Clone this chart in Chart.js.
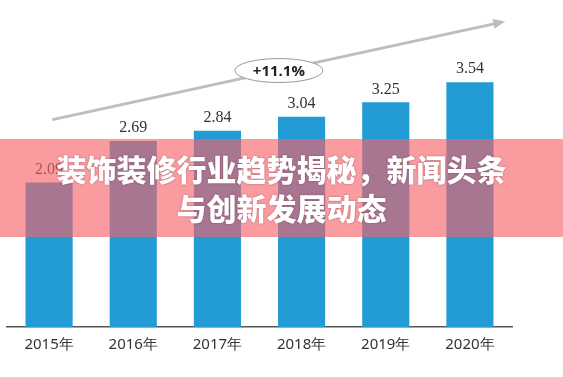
<!DOCTYPE html>
<html>
<head>
<meta charset="utf-8">
<script src="https://cdn.jsdelivr.net/npm/chart.js@4"></script>
<style>
  html, body { margin: 0; padding: 0; background: #fff; }
  #wrap { position: relative; width: 563px; height: 377px; overflow: hidden; }
  #band {
    position: absolute; left: 0; top: 139px; width: 563px; height: 98px;
    background: rgba(247, 96, 104, 0.63);
    color: #fff; text-align: center;
    font-family: "Noto Sans CJK SC", sans-serif; font-weight: 900; font-size: 30px;
    line-height: 39px; padding-top: 10px; box-sizing: border-box;
    text-shadow: 0 0 2px rgba(80, 30, 40, 0.5);
  }
</style>
</head>
<body>
<div id="wrap">
  <canvas id="chart" width="563" height="377"></canvas>
  <div id="band">装饰装修行业趋势揭秘，新闻头条<br>与创新发展动态</div>
</div>
<script>
const years = ['2015年', '2016年', '2017年', '2018年', '2019年', '2020年'];
const values = [2.09, 2.69, 2.84, 3.04, 3.25, 3.54];
const growthLabel = '+11.1%';
// arrow ends as [category index, value]
const arrowFrom = [0.04, 3.0];
const arrowTo = [5.42, 4.42];

const ctx = document.getElementById('chart').getContext('2d');

const decorations = {
    id: 'decorations',
    afterDatasetsDraw(chart) {
        const c = chart.ctx;
        const x = chart.scales.x, y = chart.scales.y;
        // value labels
        const meta = chart.getDatasetMeta(0);
        c.save();
        c.font = '16px "Liberation Serif", serif';
        c.fillStyle = '#333';
        c.textAlign = 'center';
        c.textBaseline = 'bottom';
        meta.data.forEach((bar, i) => {
            c.fillText(values[i].toFixed(2), bar.x, bar.y - 5);
        });
        // arrow
        const x1 = x.getPixelForValue(arrowFrom[0]), y1 = y.getPixelForValue(arrowFrom[1]);
        const x2 = x.getPixelForValue(arrowTo[0]), y2 = y.getPixelForValue(arrowTo[1]);
        const ang = Math.atan2(y2 - y1, x2 - x1);
        c.strokeStyle = '#bdbdbd';
        c.fillStyle = '#bdbdbd';
        c.lineWidth = 3;
        c.beginPath();
        c.moveTo(x1, y1);
        c.lineTo(x2 - 8 * Math.cos(ang), y2 - 8 * Math.sin(ang));
        c.stroke();
        c.beginPath();
        c.moveTo(x2, y2);
        c.lineTo(x2 - 12 * Math.cos(ang) + 5 * Math.sin(ang), y2 - 12 * Math.sin(ang) - 5 * Math.cos(ang));
        c.lineTo(x2 - 12 * Math.cos(ang) - 5 * Math.sin(ang), y2 - 12 * Math.sin(ang) + 5 * Math.cos(ang));
        c.closePath();
        c.fill();
        // ellipse with growth label
        const t = 0.5;
        const ex = x1 + (x2 - x1) * t, ey = y1 + (y2 - y1) * t;
        c.beginPath();
        c.ellipse(ex, ey, 44, 12, 0, 0, Math.PI * 2);
        c.fillStyle = '#fff';
        c.fill();
        c.lineWidth = 1;
        c.strokeStyle = '#999';
        c.stroke();
        c.fillStyle = '#222';
        c.font = 'bold 15px "Open Sans", sans-serif';
        c.textBaseline = 'middle';
        c.fillText(growthLabel, ex, ey + 1);
        c.restore();
    }
};

new Chart(ctx, {
    type: 'bar',
    data: {
        labels: years,
        datasets: [{
            data: values,
            backgroundColor: '#239bd4',
            categoryPercentage: 1,
            barPercentage: 0.56
        }]
    },
    options: {
        responsive: false,
        animation: false,
        layout: { padding: { left: 7, right: 51, top: 9, bottom: 0 } },
        plugins: { legend: { display: false }, tooltip: { enabled: false } },
        scales: {
            x: {
                grid: { display: false },
                border: { display: true, color: '#555', width: 1.5 },
                ticks: { color: '#333', font: { family: '"Noto Sans", sans-serif', size: 15 }, padding: 1 },
                afterFit: s => { s.height = 50; }
            },
            y: { display: false, min: 0, max: 4.6 }
        }
    },
    plugins: [decorations]
});
</script>
</body>
</html>
